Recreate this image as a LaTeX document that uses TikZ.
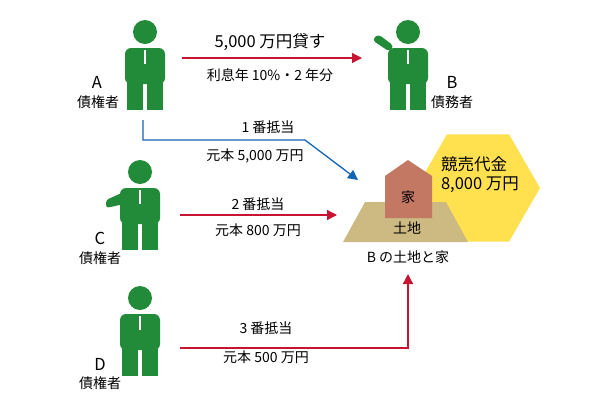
\documentclass[tikz,border=0pt]{standalone}
\usepackage{fontspec}
\setmainfont{Noto Sans CJK JP}
\usetikzlibrary{arrows.meta,shapes.geometric}
\definecolor{mangreen}{RGB}{34,139,58}
\definecolor{arrowred}{RGB}{200,20,50}
\definecolor{arrowblue}{RGB}{20,100,180}
\definecolor{hexyellow}{RGB}{255,225,80}
\definecolor{landtan}{RGB}{205,185,130}
\definecolor{housebrown}{RGB}{195,120,100}
\tikzset{
  man/.pic={
    \fill[mangreen] (0,0) circle (12);
    \fill[mangreen, rounded corners=6] (-20,16) rectangle (20,52);
    \fill[mangreen] (-18,45) rectangle (-2,78);
    \fill[mangreen] (2,45) rectangle (18,78);
    \draw[white, line width=1.2] (0,18) -- (0,32);
  },
  lbl/.style={font=\fontsize{14}{16}\selectfont},
  big/.style={font=\fontsize{16.5}{19}\selectfont}
}
\begin{document}
\begin{tikzpicture}[x=1pt,y=-1pt]
  \useasboundingbox (0,0) rectangle (600,400);

  % people
  \pic at (145,32) {man};
  \pic at (408,32) {man};
  \fill[mangreen, rounded corners=4] (390,52) -- (372,40) -- (378,34) -- (394,46) -- cycle;
  \pic at (140,172) {man};
  \fill[mangreen, rounded corners=3] (124,192) -- (106,200) -- (106,208) -- (124,204) -- cycle;
  \pic at (140,298) {man};

  \node[big] (A) at (97,82) {A};
  \node[lbl] (Ar) at (98,102) {債権者};
  \node[big] (B) at (452,82) {B};
  \node[lbl] (Br) at (452,102) {債務者};
  \node[big] (C) at (100,238) {C};
  \node[lbl] (Cr) at (100,258) {債権者};
  \node[big] (D) at (100,364) {D};
  \node[lbl] (Dr) at (100,383) {債権者};

  % property
  \node[regular polygon, regular polygon sides=6, fill=hexyellow, minimum size=124, inner sep=0] (Hex) at (478,188) {};
  \node[big, align=left] (Price) at (480,175) {競売代金\\8,000 万円};
  \fill[landtan] (343,242) -- (468,242) -- (446,202) -- (365,202) -- cycle;
  \node[lbl] (Land) at (407,228) {土地};
  \fill[housebrown] (385,218) -- (432,218) -- (432,176) -- (408,160) -- (385,176) -- cycle;
  \node[lbl] (House) at (408,197) {家};
  \node[lbl] (Prop) at (408,257) {B の土地と家};

  \coordinate (Atail) at (182,58);
  \coordinate (Bhead) at (362,58);
  \coordinate (Ab) at (143,120);
  \coordinate (Ac) at (143,140);
  \coordinate (Aturn) at (305,140);
  \coordinate (Hin) at (358,180);
  \coordinate (Ctail) at (180,215);
  \coordinate (Chead) at (337,215);
  \coordinate (Dtail) at (180,348);
  \coordinate (Dturn) at (408,348);
  \coordinate (Dhead) at (408,274);

  \begin{scope}[line width=1.3, -{Triangle[length=10pt,width=10pt]}]
    \draw[arrowred] (Atail) -- (Bhead);
    \draw[arrowblue] (Ab) -- (Ac) -- (Aturn) -- (Hin);
    \draw[arrowred] (Ctail) -- (Chead);
    \draw[arrowred] (Dtail) -- (Dturn) -- (Dhead);
  \end{scope}

  \node[big] (L1) at (270,42) {5,000 万円貸す};
  \node[lbl] (L2) at (270,75) {利息年 10\%・2 年分};
  \node[lbl] (L3) at (268,127) {1 番抵当};
  \node[lbl] (L4) at (255,156) {元本 5,000 万円};
  \node[lbl] (L5) at (258,204) {2 番抵当};
  \node[lbl] (L6) at (258,230) {元本 800 万円};
  \node[lbl] (L7) at (266,328) {3 番抵当};
  \node[lbl] (L8) at (266,357) {元本 500 万円};
\end{tikzpicture}
\end{document}
